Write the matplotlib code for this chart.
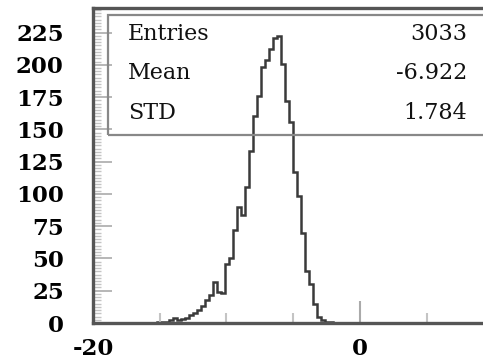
import numpy as np
import matplotlib
matplotlib.use("Agg")
import matplotlib.pyplot as plt
from matplotlib.patches import Rectangle
from matplotlib.ticker import MultipleLocator

plt.rcParams["axes.unicode_minus"] = False

# histogram data (bins of 0.3 starting at -15.2)
bin_lo = -15.2
bin_width = 0.3
counts = [1, 1, 1, 2, 4, 2, 3, 4, 6, 8,
          10, 13, 18, 22, 32, 24, 23, 46, 50, 72,
          90, 84, 105, 133, 160, 176, 198, 204, 212, 221,
          222, 201, 172, 156, 117, 98, 70, 40, 30, 15,
          5, 2, 1, 1]

stat_names = ["Entries", "Mean", "STD"]
stat_values = ["3033", "-6.922", "1.784"]

y_ticks = [0, 25, 50, 75, 100, 125, 150, 175, 200, 225]
x_ticks = [-20, 0]

W, H = 483, 361
fig = plt.figure(figsize=(W / 100, H / 100), dpi=100)
ax = fig.add_axes([93 / W, (H - 323) / H, 400.5 / W, 315 / H])

edges = bin_lo + bin_width * np.arange(len(counts) + 1)
ax.stairs(counts, edges, color="#3a3a3a", lw=1.8)

ax.set_xlim(-20, 10)
ax.set_ylim(0, 244)

for s in ["left", "bottom", "top"]:
    ax.spines[s].set_linewidth(2.4)
    ax.spines[s].set_color("#555555")
ax.spines["right"].set_visible(False)

ax.set_yticks(y_ticks)
ax.yaxis.set_minor_locator(MultipleLocator(2.5))
ax.set_xticks(x_ticks)
ax.xaxis.set_minor_locator(MultipleLocator(5))

serif = ["DejaVu Serif"]
ax.tick_params(axis="y", which="major", direction="in", length=14, width=1.2,
               color="#aaaaaa", pad=21)
ax.tick_params(axis="y", which="minor", direction="in", length=6, width=1.0,
               color="#c4c4c4")
ax.tick_params(axis="x", which="major", direction="in", length=16, width=1.5,
               color="#aaaaaa", pad=11)
ax.tick_params(axis="x", which="minor", direction="in", length=7.5, width=1.5,
               color="#c4c4c4")
for lab in ax.get_yticklabels() + ax.get_xticklabels():
    lab.set_family(serif)
    lab.set_fontsize(16.5)
    lab.set_fontweight("bold")

# stats box
fig.patches.append(Rectangle((108 / W, (H - 135) / H), 1.0, 120 / H,
                             transform=fig.transFigure, fill=False,
                             edgecolor="#888888", lw=1.6))
row_y = [34, 73, 113]
for name, val, yy in zip(stat_names, stat_values, row_y):
    fig.text(128 / W, (H - yy) / H, name, family=serif, fontsize=16,
             va="center", ha="left", color="#111111")
    fig.text(467 / W, (H - yy) / H, val, family=serif, fontsize=16,
             va="center", ha="right", color="#111111")

fig.savefig("out.png", dpi=100)
